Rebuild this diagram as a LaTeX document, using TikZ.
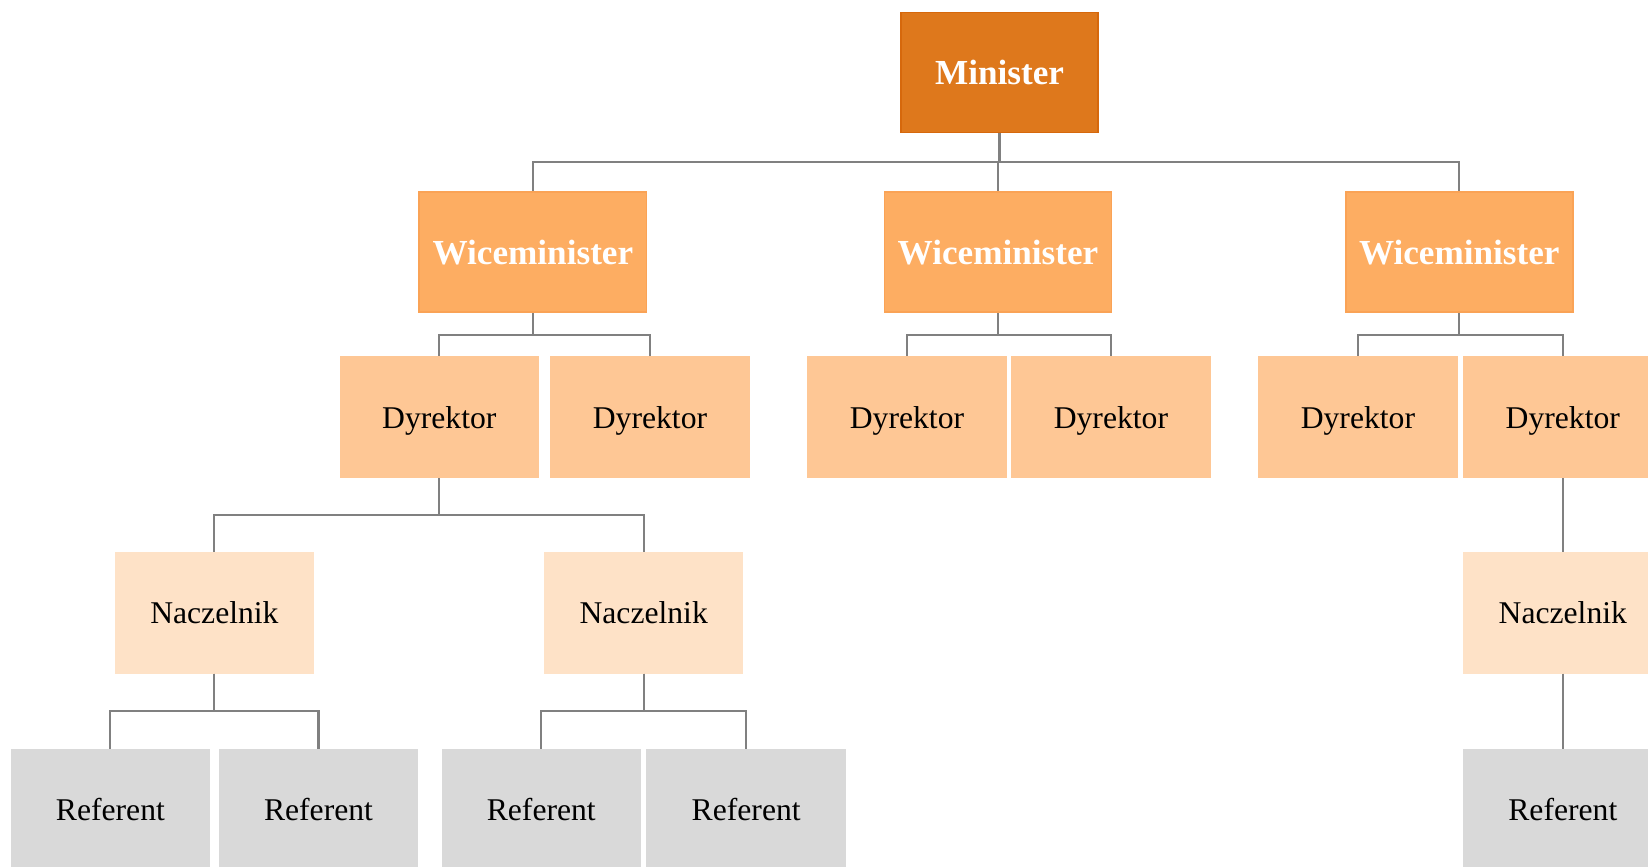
\documentclass[tikz,border=0pt]{standalone}
\usepackage{fontspec}
\setmainfont{Liberation Serif}
\usetikzlibrary{calc}

\definecolor{minfill}{RGB}{222,120,28}
\definecolor{mindraw}{RGB}{214,104,12}
\definecolor{wicefill}{RGB}{253,173,98}
\definecolor{wicedraw}{RGB}{250,163,86}
\definecolor{dyrfill}{RGB}{254,199,149}
\definecolor{naczfill}{RGB}{254,226,199}
\definecolor{reffill}{RGB}{217,217,217}
\definecolor{linkgray}{RGB}{128,128,128}

\tikzset{
  box/.style={rectangle, inner sep=0pt, line width=0.5pt,
    minimum width=1.976cm, minimum height=1.198cm, align=center,
    text depth=0pt, font=\fontsize{9}{11}\selectfont},
  ministerbox/.style={box, fill=minfill, draw=mindraw, text=white,
    font=\fontsize{10}{12}\selectfont\bfseries},
  vicebox/.style={box, fill=wicefill, draw=wicedraw, text=white,
    minimum width=2.27cm, font=\fontsize{10}{12}\selectfont\bfseries},
  dirbox/.style={box, fill=dyrfill, draw=dyrfill},
  headbox/.style={box, fill=naczfill, draw=naczfill},
  clerkbox/.style={box, fill=reffill, draw=reffill},
  link/.style={draw=linkgray, line width=0.6pt},
  orth/.style={to path={(\tikztostart) |- ($(\tikztostart)!0.5!(\tikztotarget)$) -| (\tikztotarget)}}
}

\begin{document}
\begin{tikzpicture}[x=0.01cm, y=-0.01cm]
  \useasboundingbox (0,0) rectangle (1648,866);
  \clip (0,0) rectangle (1648,866);

  % top level
  \node[ministerbox] (min) at (999.5,72.5) {Minister};

  % deputies
  \node[vicebox] (w1) at (532.9,252.3) {Wiceminister};
  \node[vicebox] (w2) at (998,252.3) {Wiceminister};
  \node[vicebox] (w3) at (1459.3,252.3) {Wiceminister};

  % directors
  \node[dirbox] (d1) at (439.3,417.3) {Dyrektor};
  \node[dirbox] (d2) at (650,417.3) {Dyrektor};
  \node[dirbox] (d3) at (907,417.3) {Dyrektor};
  \node[dirbox] (d4) at (1110.9,417.3) {Dyrektor};
  \node[dirbox] (d5) at (1357.9,417.3) {Dyrektor};
  \node[dirbox] (d6) at (1562.8,417.3) {Dyrektor};

  % heads of division
  \node[headbox] (n1) at (214.4,612.7) {Naczelnik};
  \node[headbox] (n2) at (643.7,612.7) {Naczelnik};
  \node[headbox] (n3) at (1562.8,612.7) {Naczelnik};

  % clerks
  \node[clerkbox] (r1) at (110.4,809.4) {Referent};
  \node[clerkbox] (r2) at (318.5,809.4) {Referent};
  \node[clerkbox] (r3) at (541.3,809.4) {Referent};
  \node[clerkbox] (r4) at (746.2,809.4) {Referent};
  \node[clerkbox] (r5) at (1562.8,809.4) {Referent};

  % connectors
  \foreach \c in {w1,w2,w3} \draw[link] (min.south) to[orth] (\c.north);
  \foreach \p/\c in {w1/d1,w1/d2,w2/d3,w2/d4,w3/d5,w3/d6}
    \draw[link] (\p.south) to[orth] (\c.north);
  \foreach \p/\c in {d1/n1,d1/n2,d6/n3}
    \draw[link] (\p.south) to[orth] (\c.north);
  \foreach \p/\c in {n1/r1,n1/r2,n2/r3,n2/r4,n3/r5}
    \draw[link] (\p.south) to[orth] (\c.north);
\end{tikzpicture}
\end{document}
